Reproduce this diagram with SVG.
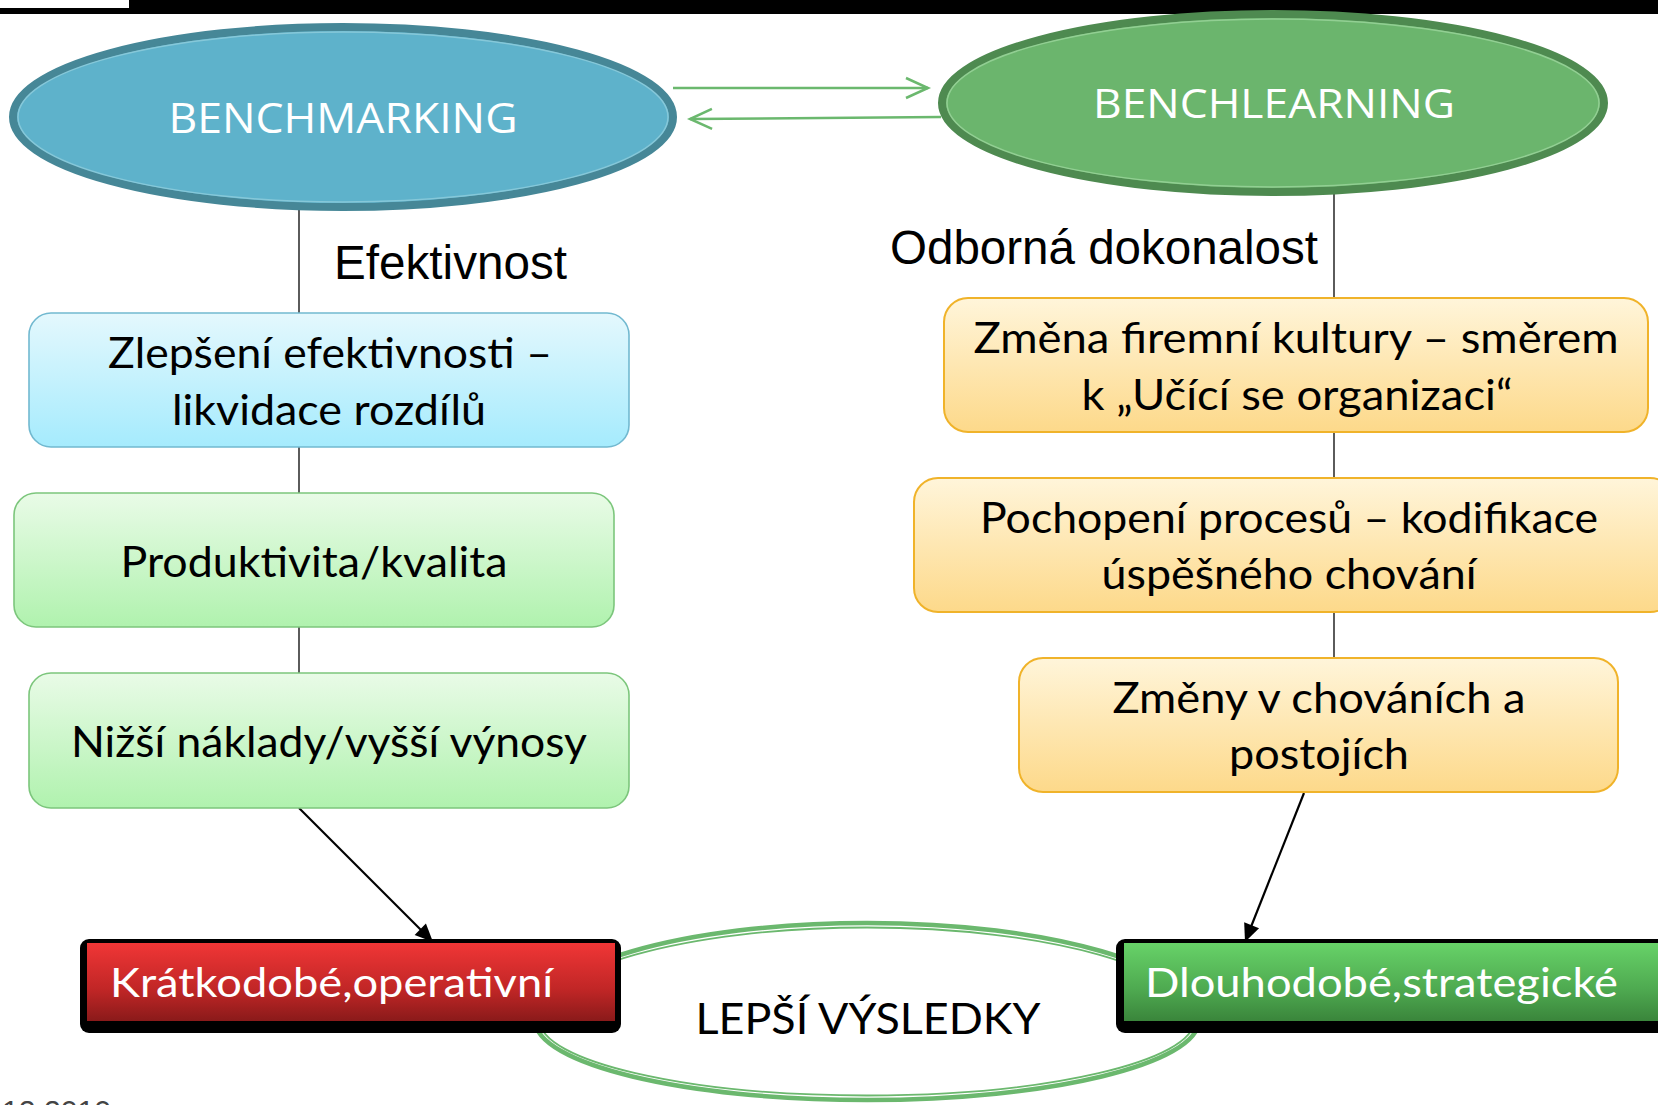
<svg xmlns="http://www.w3.org/2000/svg" width="1658" height="1105" viewBox="0 0 1658 1105">
<style>
.conn{stroke:#333;stroke-width:1.6;fill:none}
.garrow{stroke:#6bb86e;stroke-width:2.5;fill:none}
.barrow{stroke:#000;stroke-width:2.2;fill:none}
.ring{fill:none;stroke:#6bb86e}
.ell{font-family:"Open Sans","Noto Sans",sans-serif;fill:#fff;text-anchor:middle}
.lbl{font-family:"Liberation Sans",Arial,sans-serif;font-size:48px;fill:#000}
.box{font-family:Lato,"Noto Sans",sans-serif;font-size:42px;fill:#000;text-anchor:middle}
.res{font-family:Lato,"Noto Sans",sans-serif;font-size:41px;fill:#fff}
.foot{font-family:"Liberation Sans",Arial,sans-serif;font-size:30px;fill:#444}
</style>
<defs>
<linearGradient id="gCyan" x1="0" y1="0" x2="0" y2="1"><stop offset="0" stop-color="#e4f8fd"/><stop offset="1" stop-color="#a5ebfd"/></linearGradient>
<linearGradient id="gGreen" x1="0" y1="0" x2="0" y2="1"><stop offset="0" stop-color="#e9fbe7"/><stop offset="1" stop-color="#b0f2ae"/></linearGradient>
<linearGradient id="gYel" x1="0" y1="0" x2="0" y2="1"><stop offset="0" stop-color="#fff5da"/><stop offset="1" stop-color="#fdd98a"/></linearGradient>
<linearGradient id="gRed" x1="0" y1="0" x2="0" y2="1"><stop offset="0" stop-color="#f03636"/><stop offset="0.6" stop-color="#c02626"/><stop offset="1" stop-color="#8a1a1a"/></linearGradient>
<linearGradient id="gDG" x1="0" y1="0" x2="0" y2="1"><stop offset="0" stop-color="#67d268"/><stop offset="0.6" stop-color="#4ea950"/><stop offset="1" stop-color="#3a853b"/></linearGradient>
<marker id="chev" markerUnits="userSpaceOnUse" markerWidth="30" markerHeight="26" refX="24" refY="12" orient="auto" overflow="visible">
<path d="M2,2 L24,12 L2,22" fill="none" stroke="#6bb86e" stroke-width="2.5"/>
</marker>
<marker id="tri" markerUnits="userSpaceOnUse" markerWidth="20" markerHeight="16" refX="18" refY="8" orient="auto" overflow="visible">
<path d="M0,0 L18,8 L0,16 Z" fill="#000"/>
</marker>
</defs>
<rect x="0" y="0" width="1658" height="14" fill="#000"/>
<rect x="0" y="0" width="129" height="8" fill="#fff"/>

<g id="connectors">
<line class="conn" x1="299" y1="210" x2="299" y2="674"/>
<line class="conn" x1="1334" y1="194" x2="1334" y2="659"/>
<line class="garrow" x1="673" y1="88" x2="928" y2="88" marker-end="url(#chev)"/>
<line class="garrow" x1="941" y1="117" x2="690" y2="119" marker-end="url(#chev)"/>
<line class="barrow" x1="299" y1="808" x2="433" y2="942" marker-end="url(#tri)"/>
<line class="barrow" x1="1304" y1="793" x2="1245" y2="942" marker-end="url(#tri)"/>
</g>

<g id="result-ring">
<path class="ring" stroke-width="4.5" d="M535,1020 C535,966 684,923 867,923 C1050,923 1199,966 1199,1020 C1199,1064 1050,1100 867,1100 C684,1100 535,1064 535,1020 Z"/>
<path class="ring" stroke-width="1.8" d="M539.5,1020 C539.5,969 686,927.5 867,927.5 C1048,927.5 1194.5,969 1194.5,1020 C1194.5,1061 1048,1095.5 867,1095.5 C686,1095.5 539.5,1061 539.5,1020 Z"/>
<text x="868" y="1034" font-family="Lato,'Noto Sans',sans-serif" font-size="43" fill="#000" text-anchor="middle" textLength="345" lengthAdjust="spacingAndGlyphs">LEPŠÍ VÝSLEDKY</text>
</g>

<g id="benchmarking">
<ellipse cx="343" cy="117" rx="330" ry="90" fill="#5eb2cb" stroke="#468797" stroke-width="8"/>
<ellipse cx="343" cy="117" rx="325" ry="85" fill="none" stroke="#86c8d9" stroke-width="1.5"/>
<text class="ell" x="343" y="133" font-size="42" textLength="349" lengthAdjust="spacingAndGlyphs">BENCHMARKING</text>
</g>

<g id="benchlearning">
<ellipse cx="1273" cy="103" rx="331" ry="89" fill="#6bb56d" stroke="#4e8a50" stroke-width="8"/>
<ellipse cx="1273" cy="103" rx="326" ry="84" fill="none" stroke="#92cf93" stroke-width="1.5"/>
<text class="ell" x="1274" y="118" font-size="41" textLength="362" lengthAdjust="spacingAndGlyphs">BENCHLEARNING</text>
</g>

<g id="label-efektivnost"><text class="lbl" x="334" y="279" textLength="233" lengthAdjust="spacingAndGlyphs">Efektivnost</text></g>
<g id="label-odborna"><text class="lbl" x="890" y="264" textLength="428" lengthAdjust="spacingAndGlyphs">Odborná dokonalost</text></g>

<g id="zlepseni">
<rect x="29" y="313" width="600" height="134" rx="22" fill="url(#gCyan)" stroke="#72b9d0" stroke-width="1.6"/>
<text class="box" x="330" y="368" textLength="444" lengthAdjust="spacingAndGlyphs">Zlepšení efektivnosti –</text>
<text class="box" x="329" y="425" textLength="314" lengthAdjust="spacingAndGlyphs">likvidace rozdílů</text>
</g>

<g id="produktivita">
<rect x="14" y="493" width="600" height="134" rx="22" fill="url(#gGreen)" stroke="#7cc67c" stroke-width="1.6"/>
<text class="box" x="314" y="577" textLength="387" lengthAdjust="spacingAndGlyphs">Produktivita/kvalita</text>
</g>

<g id="naklady">
<rect x="29" y="673" width="600" height="135" rx="22" fill="url(#gGreen)" stroke="#7cc67c" stroke-width="1.6"/>
<text class="box" x="329" y="757" textLength="516" lengthAdjust="spacingAndGlyphs">Nižší náklady/vyšší výnosy</text>
</g>

<g id="zmena-kultury">
<rect x="944" y="298" width="704" height="134" rx="24" fill="url(#gYel)" stroke="#f0b32a" stroke-width="2"/>
<text class="box" x="1296" y="353" textLength="645" lengthAdjust="spacingAndGlyphs">Změna firemní kultury – směrem</text>
<text class="box" x="1297" y="410" textLength="431" lengthAdjust="spacingAndGlyphs">k „Učící se organizaci“</text>
</g>

<g id="pochopeni">
<rect x="914" y="478" width="760" height="134" rx="24" fill="url(#gYel)" stroke="#f0b32a" stroke-width="2"/>
<text class="box" x="1289" y="533" textLength="618" lengthAdjust="spacingAndGlyphs">Pochopení procesů – kodifikace</text>
<text class="box" x="1289" y="589" textLength="375" lengthAdjust="spacingAndGlyphs">úspěšného chování</text>
</g>

<g id="zmeny-chovani">
<rect x="1019" y="658" width="599" height="134" rx="24" fill="url(#gYel)" stroke="#f0b32a" stroke-width="2"/>
<text class="box" x="1319" y="713" textLength="413" lengthAdjust="spacingAndGlyphs">Změny v chováních a</text>
<text class="box" x="1319" y="769" textLength="180" lengthAdjust="spacingAndGlyphs">postojích</text>
</g>

<g id="kratkodobe">
<rect x="80" y="939" width="541" height="94" rx="9" fill="#000"/>
<rect x="87" y="943" width="528" height="78" fill="url(#gRed)"/>
<text class="res" x="110" y="997" textLength="443" lengthAdjust="spacingAndGlyphs">Krátkodobé,operativní</text>
</g>

<g id="dlouhodobe">
<rect x="1116" y="939" width="560" height="94" rx="9" fill="#000"/>
<rect x="1124" y="943" width="540" height="78" fill="url(#gDG)"/>
<text class="res" x="1145" y="997" textLength="473" lengthAdjust="spacingAndGlyphs">Dlouhodobé,strategické</text>
</g>

<g id="footer"><text class="foot" x="2" y="1121" textLength="109" lengthAdjust="spacingAndGlyphs">12.2010</text></g>
</svg>
